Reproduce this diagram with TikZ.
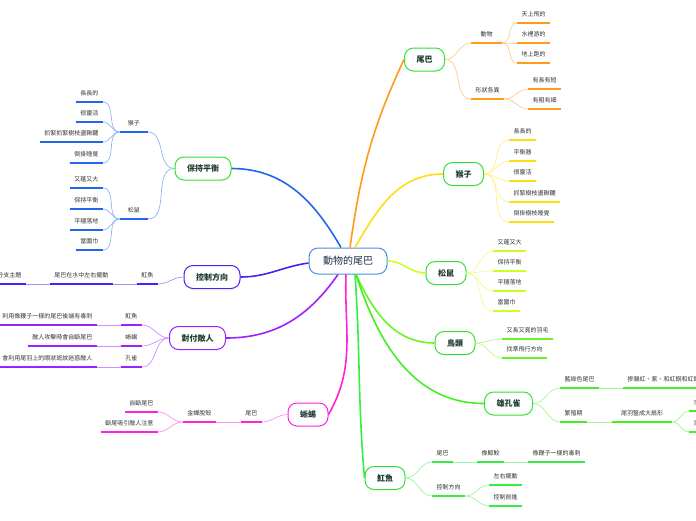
\documentclass[tikz,border=0pt]{standalone}
\usepackage{fontspec}
\setmainfont{Noto Sans CJK TC}
\usepackage{tikz}

\definecolor{rootline}{HTML}{4A90D9}
\definecolor{rootink}{HTML}{1B2E4B}
\definecolor{topicink}{HTML}{1D3B2E}
\definecolor{topicgreen}{HTML}{33E033}
\definecolor{tailc}{HTML}{FF9A1A}
\definecolor{monkeyc}{HTML}{FFDD11}
\definecolor{squirrelc}{HTML}{CCFF22}
\definecolor{birdc}{HTML}{66F522}
\definecolor{peacockc}{HTML}{44EE22}
\definecolor{rayc}{HTML}{33EE44}
\definecolor{balancec}{HTML}{2266EE}
\definecolor{steerc}{HTML}{4A22EE}
\definecolor{defendc}{HTML}{9922FF}
\definecolor{lizardc}{HTML}{FF22DD}

\begin{document}
\begin{tikzpicture}[x=1pt, y=-1pt,
  root/.style={draw=rootline, line width=1pt, rounded corners=9pt, fill=white, minimum height=26pt, inner xsep=14pt, font=\fontsize{10}{12}\selectfont, text=rootink},
  topic/.style={draw=#1, line width=1pt, rounded corners=9pt, fill=white, minimum height=23pt, inner xsep=12pt, font=\bfseries\fontsize{8}{10}\selectfont, text=topicink},
  leaf/.style={inner xsep=4.5pt, inner ysep=5pt, text height=5pt, text depth=1pt, font=\fontsize{6}{7}\selectfont, text=black!80,
    append after command={(\tikzlastnode.south west) edge[line width=1.6pt, draw=#1] (\tikzlastnode.south east)}},
  link/.style={line width=0.7pt, draw=#1!50},
  trunk/.style={line width=1.6pt, draw=#1}]

  \useasboundingbox (0,0) rectangle (696,520);

  % Central topic
  \node[root] (root) at (348,261) {動物的尾巴};

  % Main topics
  \node[topic=topicgreen] (tail) at (424.5,59.5) {尾巴};
  \node[topic=topicgreen] (monkey) at (463.5,174) {猴子};
  \node[topic=topicgreen] (squirrel) at (446,273) {松鼠};
  \node[topic=topicgreen] (bird) at (455,343) {鳥類};
  \node[topic=topicgreen] (peacock) at (508.5,403.5) {雄孔雀};
  \node[topic=topicgreen] (ray) at (385,478) {魟魚};
  \node[topic=topicgreen] (balance) at (203,168.5) {保持平衡};
  \node[topic=steerc] (steer) at (212,277) {控制方向};
  \node[topic=defendc] (defend) at (197.5,338) {對付敵人};
  \node[topic=lizardc] (lizard) at (308,414.5) {蜥蜴};

  % Tail
  \node[leaf=tailc, anchor=south west, minimum width=31pt] (animal) at (471,43) {動物};
  \node[leaf=tailc, anchor=south west] (fly) at (517,23) {天上飛的};
  \node[leaf=tailc, anchor=south west] (swim) at (517,43) {水裡游的};
  \node[leaf=tailc, anchor=south west] (run) at (517,63) {地上跑的};
  \node[leaf=tailc, anchor=south west] (shape) at (471,99) {形狀各異};
  \node[leaf=tailc, anchor=south west] (long) at (528,89) {有長有短};
  \node[leaf=tailc, anchor=south west] (thick) at (528,109) {有粗有細};

  % Monkey
  \node[leaf=monkeyc, anchor=south west] (m1) at (509,140) {長長的};
  \node[leaf=monkeyc, anchor=south west] (m2) at (509,161) {平衡器};
  \node[leaf=monkeyc, anchor=south west] (m3) at (509,181) {很靈活};
  \node[leaf=monkeyc, anchor=south west] (m4) at (509,202) {抓緊樹枝盪鞦韆};
  \node[leaf=monkeyc, anchor=south west] (m5) at (509,222) {倒掛樹枝睡覺};

  % Squirrel
  \node[leaf=squirrelc, anchor=south west] (s1) at (493,251) {又蓬又大};
  \node[leaf=squirrelc, anchor=south west] (s2) at (493,271) {保持平衡};
  \node[leaf=squirrelc, anchor=south west] (s3) at (493,291) {平穩落地};
  \node[leaf=squirrelc, anchor=south west] (s4) at (493,311) {當圍巾};

  % Birds
  \node[leaf=birdc, anchor=south west] (b1) at (502,339) {又長又寬的羽毛};
  \node[leaf=birdc, anchor=south west] (b2) at (502,358) {找準飛行方向};

  % Peacock
  \node[leaf=peacockc, anchor=south west] (p1) at (560,388) {藍綠色尾巴};
  \node[leaf=peacockc, anchor=south west] (p11) at (623,388) {摻雜紅、紫、和紅銅和紅銅色};
  \node[leaf=peacockc, anchor=south west] (p2) at (560,422) {繁殖期};
  \node[leaf=peacockc, anchor=south west, minimum width=60pt] (p21) at (612,422) {尾羽豎成大扇形};
  \node[leaf=peacockc, anchor=south west] (p211) at (689,411) {求偶};
  \node[leaf=peacockc, anchor=south west] (p212) at (689,432) {漂亮};

  % Stingray
  \node[leaf=rayc, anchor=south west] (r1) at (432,462) {尾巴};
  \node[leaf=rayc, anchor=south west] (r11) at (477,462) {像鯨鮫};
  \node[leaf=rayc, anchor=south west] (r111) at (528,462) {像鞭子一樣的毒刺};
  \node[leaf=rayc, anchor=south west] (r2) at (432,496) {控制方向};
  \node[leaf=rayc, anchor=south west] (r21) at (489,485) {左右擺動};
  \node[leaf=rayc, anchor=south west] (r22) at (489,506) {控制前進};

  % Balance
  \node[leaf=balancec, anchor=south east, minimum width=28pt] (bm) at (148,132) {猴子};
  \node[leaf=balancec, anchor=south east] (bm1) at (103,102) {長長的};
  \node[leaf=balancec, anchor=south east] (bm2) at (103,122) {很靈活};
  \node[leaf=balancec, anchor=south east] (bm3) at (103,142) {抓緊抓緊樹枝盪鞦韆};
  \node[leaf=balancec, anchor=south east] (bm4) at (103,163) {倒掛睡覺};
  \node[leaf=balancec, anchor=south east, minimum width=28pt] (bs) at (148,219) {松鼠};
  \node[leaf=balancec, anchor=south east] (bs1) at (103,188) {又蓬又大};
  \node[leaf=balancec, anchor=south east] (bs2) at (103,209) {保持平衡};
  \node[leaf=balancec, anchor=south east] (bs3) at (103,230) {平穩落地};
  \node[leaf=balancec, anchor=south east] (bs4) at (103,250) {當圍巾};

  % Steering
  \node[leaf=steerc, anchor=south east] (sr) at (158,284) {魟魚};
  \node[leaf=steerc, anchor=south east] (sr1) at (113,284) {尾巴在水中左右擺動};
  \node[leaf=steerc, anchor=south east] (sr11) at (26,284) {分支主題};

  % Defence
  \node[leaf=defendc, anchor=south east] (dr) at (142,325) {魟魚};
  \node[leaf=defendc, anchor=south east] (dr1) at (97,325) {利用像鞭子一樣的尾巴後端有毒刺};
  \node[leaf=defendc, anchor=south east] (dl) at (142,346) {蜥蜴};
  \node[leaf=defendc, anchor=south east] (dl1) at (97,346) {敵人攻擊時會自斷尾巴};
  \node[leaf=defendc, anchor=south east] (dp) at (142,367) {孔雀};
  \node[leaf=defendc, anchor=south east] (dp1) at (97,367) {會利用尾羽上的眼狀斑紋迷惑敵人};

  % Lizard
  \node[leaf=lizardc, anchor=south east] (lt) at (262,422) {尾巴};
  \node[leaf=lizardc, anchor=south east] (lt1) at (216,422) {金蟬脫殼};
  \node[leaf=lizardc, anchor=south east] (lt11) at (158,412) {自斷尾巴};
  \node[leaf=lizardc, anchor=south east] (lt12) at (158,432) {斷尾吸引敵人注意};

  % Trunks
  \draw[trunk=tailc] ([xshift=2pt]root.north) to[out=82, in=-115] (tail.west);
  \draw[trunk=monkeyc] ([xshift=7pt]root.north) to[out=60, in=180] (monkey.west);
  \draw[trunk=squirrelc] (root.east) to[out=0, in=180] (squirrel.west);
  \draw[trunk=birdc] ([xshift=8pt]root.south) to[out=-65, in=180] (bird.west);
  \draw[trunk=peacockc] ([xshift=8pt]root.south) to[out=-72, in=180] (peacock.west);
  \draw[trunk=rayc] ([xshift=7pt]root.south) to[out=-86, in=95] (ray.west);
  \draw[trunk=balancec] ([xshift=-7pt]root.north) to[out=120, in=0] (balance.east);
  \draw[trunk=steerc] ([yshift=-2pt]root.west) to[out=188, in=0] (steer.east);
  \draw[trunk=defendc] ([xshift=-10pt]root.south) to[out=-125, in=0] (defend.east);
  \draw[trunk=lizardc] ([xshift=-2pt]root.south) to[out=-92, in=60] (lizard.east);

  % Links
  \draw[link=tailc] (tail.east) to[out=0, in=180] (animal.south west);
  \draw[link=tailc] (tail.east) to[out=0, in=180] (shape.south west);
  \draw[link=tailc] (animal.south east) to[out=0, in=180] (fly.south west);
  \draw[link=tailc] (animal.south east) to[out=0, in=180] (swim.south west);
  \draw[link=tailc] (animal.south east) to[out=0, in=180] (run.south west);
  \draw[link=tailc] (shape.south east) to[out=0, in=180] (long.south west);
  \draw[link=tailc] (shape.south east) to[out=0, in=180] (thick.south west);

  \draw[link=monkeyc] (monkey.east) to[out=0, in=180] (m1.south west);
  \draw[link=monkeyc] (monkey.east) to[out=0, in=180] (m2.south west);
  \draw[link=monkeyc] (monkey.east) to[out=0, in=180] (m3.south west);
  \draw[link=monkeyc] (monkey.east) to[out=0, in=180] (m4.south west);
  \draw[link=monkeyc] (monkey.east) to[out=0, in=180] (m5.south west);

  \draw[link=squirrelc] (squirrel.east) to[out=0, in=180] (s1.south west);
  \draw[link=squirrelc] (squirrel.east) to[out=0, in=180] (s2.south west);
  \draw[link=squirrelc] (squirrel.east) to[out=0, in=180] (s3.south west);
  \draw[link=squirrelc] (squirrel.east) to[out=0, in=180] (s4.south west);

  \draw[link=birdc] (bird.east) to[out=0, in=180] (b1.south west);
  \draw[link=birdc] (bird.east) to[out=0, in=180] (b2.south west);

  \draw[link=peacockc] (peacock.east) to[out=0, in=180] (p1.south west);
  \draw[link=peacockc] (peacock.east) to[out=0, in=180] (p2.south west);
  \draw[link=peacockc] (p1.south east) -- (p11.south west);
  \draw[link=peacockc] (p2.south east) -- (p21.south west);
  \draw[link=peacockc] (p21.south east) to[out=0, in=180] (p211.south west);
  \draw[link=peacockc] (p21.south east) to[out=0, in=180] (p212.south west);

  \draw[link=rayc] (ray.east) to[out=0, in=180] (r1.south west);
  \draw[link=rayc] (ray.east) to[out=0, in=180] (r2.south west);
  \draw[link=rayc] (r1.south east) -- (r11.south west);
  \draw[link=rayc] (r11.south east) -- (r111.south west);
  \draw[link=rayc] (r2.south east) to[out=0, in=180] (r21.south west);
  \draw[link=rayc] (r2.south east) to[out=0, in=180] (r22.south west);

  \draw[link=balancec] (balance.west) to[out=180, in=0] (bm.south east);
  \draw[link=balancec] (balance.west) to[out=180, in=0] (bs.south east);
  \draw[link=balancec] (bm.south west) to[out=180, in=0] (bm1.south east);
  \draw[link=balancec] (bm.south west) to[out=180, in=0] (bm2.south east);
  \draw[link=balancec] (bm.south west) to[out=180, in=0] (bm3.south east);
  \draw[link=balancec] (bm.south west) to[out=180, in=0] (bm4.south east);
  \draw[link=balancec] (bs.south west) to[out=180, in=0] (bs1.south east);
  \draw[link=balancec] (bs.south west) to[out=180, in=0] (bs2.south east);
  \draw[link=balancec] (bs.south west) to[out=180, in=0] (bs3.south east);
  \draw[link=balancec] (bs.south west) to[out=180, in=0] (bs4.south east);

  \draw[link=steerc] (steer.west) to[out=180, in=0] (sr.south east);
  \draw[link=steerc] (sr.south west) -- (sr1.south east);
  \draw[link=steerc] (sr1.south west) -- (sr11.south east);

  \draw[link=defendc] (defend.west) to[out=180, in=0] (dr.south east);
  \draw[link=defendc] (defend.west) to[out=180, in=0] (dl.south east);
  \draw[link=defendc] (defend.west) to[out=180, in=0] (dp.south east);
  \draw[link=defendc] (dr.south west) -- (dr1.south east);
  \draw[link=defendc] (dl.south west) -- (dl1.south east);
  \draw[link=defendc] (dp.south west) -- (dp1.south east);

  \draw[link=lizardc] (lizard.west) to[out=180, in=0] (lt.south east);
  \draw[link=lizardc] (lt.south west) -- (lt1.south east);
  \draw[link=lizardc] (lt1.south west) to[out=180, in=0] (lt11.south east);
  \draw[link=lizardc] (lt1.south west) to[out=180, in=0] (lt12.south east);
\end{tikzpicture}
\end{document}
